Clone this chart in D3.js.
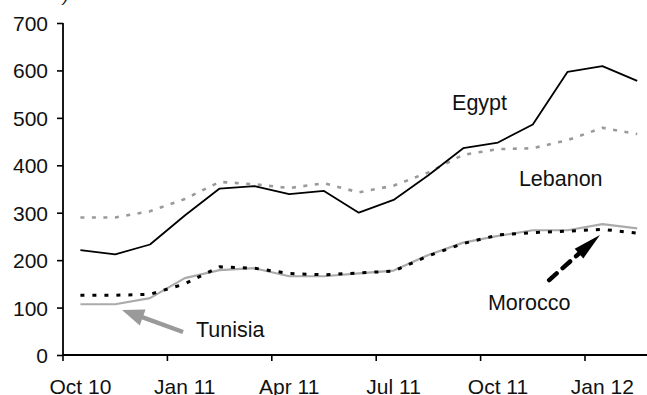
<!DOCTYPE html>
<html><head><meta charset="utf-8">
<script src="https://cdn.jsdelivr.net/npm/d3@7"></script>
<style>
html,body{margin:0;padding:0;background:#fff;overflow:hidden;}
text{font-family:"Liberation Sans",Arial,Helvetica,sans-serif;}
</style></head>
<body><svg id="c" width="647" height="395"></svg>
<script>
const months = ["Oct 10","Nov 10","Dec 10","Jan 11","Feb 11","Mar 11","Apr 11","May 11","Jun 11","Jul 11","Aug 11","Sep 11","Oct 11","Nov 11","Dec 11","Jan 12","Feb 12"];
const tickLabels = ["Oct 10","Jan 11","Apr 11","Jul 11","Oct 11","Jan 12"];
const yTicks = [0,100,200,300,400,500,600,700];
const egypt   = [221,212,233,294,351,356,339,346,300,327,379,436,448,486,597,609,578];
const lebanon = [290,290,303,329,365,360,352,362,343,357,385,422,434,436,453,479,466];
const morocco = [126,126,128,150,186,183,172,169,173,177,209,235,253,258,261,265,257];
const tunisia = [107,107,120,162,179,183,166,166,172,178,211,237,251,263,263,276,267];

const svg = d3.select("#c");
const x0 = 63, bw = 34.8;
const x = d3.scaleBand().domain(months).range([x0, x0 + bw*months.length]).padding(0);
const y = d3.scaleLinear().domain([0,700]).range([355,23]);
const cx = m => x(m) + x.bandwidth()/2;
const fx = i => x(months[0]) + (i+0.5)*x.bandwidth(); // fractional month index

// axes
const yAxis = d3.axisLeft(y).tickValues(yTicks).tickSize(6).tickPadding(9);
const gy = svg.append("g").attr("transform",`translate(${x0},0)`).call(yAxis);
gy.select(".domain").attr("d",`M-0,${y(700)}V${y(0)}`);
const xAxis = d3.axisBottom(x).tickValues(tickLabels).tickSize(6).tickSizeOuter(0);
const gx = svg.append("g").attr("transform",`translate(0,${y(0)})`).call(xAxis);
gx.select(".domain").attr("d",`M${x0},0H647`);
gx.selectAll(".tick line").attr("x1",-x.bandwidth()/2).attr("x2",-x.bandwidth()/2);
gx.selectAll(".tick text").attr("dy",0).attr("y",38.5);
[gx,gy].forEach(g=>{
  g.selectAll(".domain").attr("stroke","#000").attr("stroke-width",1.8);
  g.selectAll(".tick line").attr("stroke","#000").attr("stroke-width",1.6);
  g.selectAll(".tick text").attr("fill","#111").style("font-size","21px").style("font-family","'Liberation Sans',Arial,sans-serif");
});
gy.selectAll(".tick text").attr("dy","0.36em");

// lines
const line = d3.line().x((d,i)=>cx(months[i])).y(d=>y(d));
const series = [
  {v:lebanon, stroke:"#9a9a9a", w:2.6, dash:"4,7.5", cap:"butt"},
  {v:tunisia, stroke:"#ababab", w:2.2, dash:null, cap:"butt"},
  {v:morocco, stroke:"#000", w:3, dash:"4,8", cap:"butt"},
  {v:egypt,   stroke:"#000", w:1.8, dash:null, cap:"butt"}
];
series.forEach(s=>{
  svg.append("path").datum(s.v).attr("d",line).attr("fill","none")
    .attr("stroke",s.stroke).attr("stroke-width",s.w)
    .attr("stroke-dasharray",s.dash).attr("stroke-linecap",s.cap)
    .attr("stroke-linejoin","round");
});

// labels
const labels = [
  {t:"Egypt",   i:10.68, v:516},
  {t:"Lebanon", i:12.6,  v:356},
  {t:"Tunisia", i:3.32,  v:38},
  {t:"Morocco", i:11.71, v:95}
];
svg.selectAll("text.lab").data(labels).join("text").attr("class","lab")
  .attr("x",d=>fx(d.i)).attr("y",d=>y(d.v)).text(d=>d.t)
  .attr("fill","#111").style("font-size","21.5px");

// arrows
function arrow(from, to, color, headLen, headHalf, width, dash){
  const x1=fx(from[0]), y1=y(from[1]), x2=fx(to[0]), y2=y(to[1]);
  const dx=x2-x1, dy=y2-y1, L=Math.hypot(dx,dy), ux=dx/L, uy=dy/L;
  const bx=x2-ux*headLen, by=y2-uy*headLen;
  svg.append("line").attr("x1",x1).attr("y1",y1).attr("x2",bx+ux*2).attr("y2",by+uy*2)
    .attr("stroke",color).attr("stroke-width",width).attr("stroke-linecap",dash?"round":"butt")
    .attr("stroke-dasharray",dash);
  svg.append("path").attr("d",`M${x2},${y2}L${bx-uy*headHalf},${by+ux*headHalf}L${bx+uy*headHalf},${by-ux*headHalf}Z`)
    .attr("fill",color);
}
arrow([2.95,48.5],[1.195,95],"#9a9a9a",22,8.5,4.5,null);
arrow([13.47,158],[14.93,253],"#000",28,6.5,4.5,"10,8");

// cut-off unit label at top
svg.append("text").attr("x",63).attr("y",1).text(")").attr("fill","#111").style("font-size","18px").style("font-style","italic");
</script></body></html>
